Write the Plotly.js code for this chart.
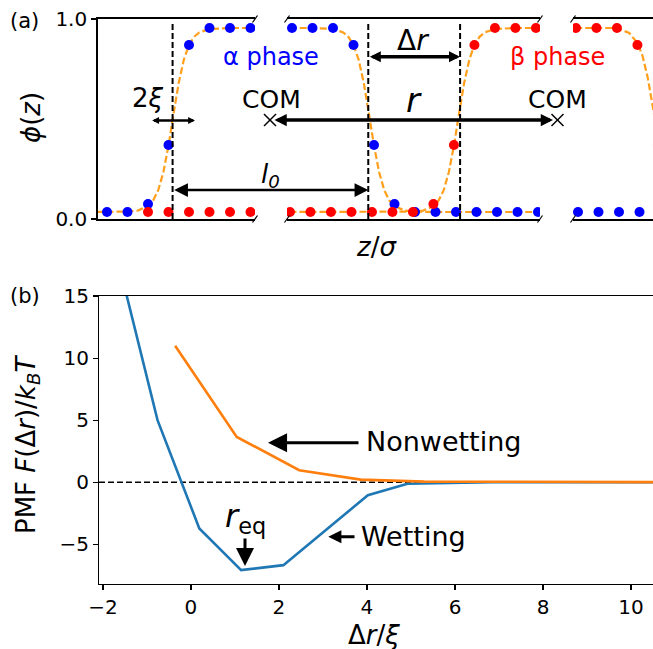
<!DOCTYPE html>
<html><head><meta charset="utf-8">
<script src="https://cdn.plot.ly/plotly-3.0.1.min.js"></script>
<style>html,body{margin:0;padding:0;background:#fff}#chart{width:653px;height:649px}</style>
</head><body><div id="chart"></div>
<script>
// ---------- panel (a): order-parameter profiles (z in lattice units) ----------
const zBlue = [0,1,2,3,4,5,6,7, 18,19,20,21,22,23,24,25,26,27,28,29,30, 40,41,42,43,44];
const phiBlue = [0.035,0.035,0.075,0.37,0.87,0.955,0.955,0.955,
  0.955,0.955,0.955,0.87,0.37,0.075,0.035,0.035,0.035,0.035,0.035,0.035,0.035,
  0.035,0.035,0.035,0.035,0.035];
const zRed = [2,3,4,5,6,7, 17.9,18.9,19.9,20.9,21.9,22.9,23.9,24.9,25.9,26.9,27.9,28.9,29.9, 39.9,40.9,41.9,42.9,43.9];
const phiRed = [0.035,0.035,0.035,0.035,0.035,0.035,
  0.035,0.035,0.035,0.035,0.035,0.035,0.035,0.075,0.37,0.87,0.955,0.955,0.955,
  0.955,0.955,0.955,0.87,0.37];
// fitted profiles (orange dashed)
const zFitA = [-1,0,1,1.5,2,2.25,2.5,2.75,3,3.25,3.5,3.75,4,4.25,4.5,5,6,7,8,
  17,18,19,20,20.5,20.75,21,21.25,21.5,21.75,22,22.25,22.5,22.75,23,23.5,24,25,26,27,28,29,30,31];
const phiFitA = [0.035,0.035,0.037,0.042,0.064,0.092,0.144,0.234,0.367,0.528,0.681,0.797,0.870,0.911,0.933,0.950,0.955,0.955,0.955,
  0.955,0.955,0.955,0.950,0.933,0.911,0.870,0.797,0.681,0.528,0.367,0.234,0.144,0.092,0.064,0.042,0.037,0.035,0.035,0.035,0.035,0.035,0.035,0.035];
const zFitB = [16.9,17.9,18.9,19.9,20.9,21.9,22.9,23.9,24.4,24.9,25.15,25.4,25.65,25.9,26.15,26.4,26.65,26.9,27.15,27.4,27.9,28.9,29.9,30.9,
  38.9,39.9,40.9,41.9,42.5,42.9,43.15,43.4,43.65,43.9,44.15,44.4,44.9,45.9];
const phiFitB = [0.035,0.035,0.035,0.035,0.035,0.035,0.035,0.037,0.042,0.064,0.092,0.144,0.234,0.367,0.528,0.681,0.797,0.870,0.911,0.933,0.950,0.955,0.955,0.955,
  0.955,0.955,0.955,0.955,0.930,0.880,0.815,0.708,0.560,0.398,0.258,0.159,0.068,0.036];
const interfaceA = [3.2];          // on segment 1
const interfaceB = [21.72, 26.2];  // on segment 2

// ---------- panel (b): PMF ----------
const drWet = [-1.71,-0.76,0.19,1.14,2.10,4.02,4.92,5.9,6.85,7.8,8.75,9.7,10.65];
const pmfWet = [18.6,5.0,-3.73,-7.08,-6.68,-1.05,-0.12,-0.03,0,0,0,0,0];
const drNon = [-0.36,1.04,2.46,3.86,5.3,6.72,8.14,9.56,10.98];
const pmfNon = [11.0,3.65,0.97,0.21,0.05,0.02,0,0,0];
const xTicksB = [-2,0,2,4,6,8,10];
const yTicksB = [-5,0,5,10,15];

const W = 653, H = 649;
const PX = v => v / W, PY = v => 1 - v / H;
const FONT = 'DejaVu Sans';
const ORANGE = '#ff9f1c';

const traces = [];
['x','x2','x3'].forEach(ax => {
  if (ax !== 'x3') traces.push({x: zFitA, y: phiFitA, xaxis: ax, yaxis: 'y', mode: 'lines',
    line: {color: ORANGE, width: 2.2, dash: '7px,3px'}, hoverinfo: 'skip'});
  if (ax !== 'x') traces.push({x: zFitB, y: phiFitB, xaxis: ax, yaxis: 'y', mode: 'lines',
    line: {color: ORANGE, width: 2.2, dash: '7px,3px'}, hoverinfo: 'skip'});
});
['x','x2','x3'].forEach(ax => {
  traces.push({x: zBlue, y: phiBlue, xaxis: ax, yaxis: 'y', mode: 'markers',
    marker: {color: 'blue', size: 10}});
});
['x','x2','x3'].forEach(ax => {
  traces.push({x: zRed, y: phiRed, xaxis: ax, yaxis: 'y', mode: 'markers',
    marker: {color: 'red', size: 10}});
});
traces.push({x: drWet, y: pmfWet, xaxis: 'x4', yaxis: 'y2', mode: 'lines',
  line: {color: '#1f77b4', width: 2.6}, name: 'Wetting'});
traces.push({x: drNon, y: pmfNon, xaxis: 'x4', yaxis: 'y2', mode: 'lines',
  line: {color: '#ff7f0e', width: 2.6}, name: 'Nonwetting'});

const segAxis = (dom, rng) => ({domain: dom, range: rng, anchor: 'y', showline: true, mirror: true,
  linecolor: 'black', linewidth: 1.8, ticks: '', showticklabels: false, showgrid: false, zeroline: false});

const shapes = [];
interfaceA.forEach(v => shapes.push({type: 'line', xref: 'x', yref: 'y', x0: v, x1: v, y0: 0, y1: 0.975,
  line: {color: 'black', width: 2, dash: '6px,3px'}}));
interfaceB.forEach(v => shapes.push({type: 'line', xref: 'x2', yref: 'y', x0: v, x1: v, y0: 0, y1: 0.975,
  line: {color: 'black', width: 2, dash: '6px,3px'}}));
// zero reference line in (b)
shapes.push({type: 'line', xref: 'paper', yref: 'y2', x0: PX(99), x1: 1, y0: 0, y1: 0, layer: 'below',
  line: {color: 'black', width: 1.5, dash: '6px,3px'}});
// axis break marks
[255, 287, 540, 573].forEach(bx => [19, 219].forEach(by => shapes.push({type: 'line', xref: 'paper', yref: 'paper',
  x0: PX(bx - 2.5), y0: PY(by + 3.5), x1: PX(bx + 2.5), y1: PY(by - 3.5), line: {color: 'black', width: 1.2}})));
// COM crosses
[[270, 120], [557.5, 120]].forEach(([cx, cy]) => {
  shapes.push({type: 'line', xref: 'paper', yref: 'paper', x0: PX(cx - 6), y0: PY(cy - 6), x1: PX(cx + 6), y1: PY(cy + 6), line: {color: 'black', width: 1.5}});
  shapes.push({type: 'line', xref: 'paper', yref: 'paper', x0: PX(cx - 6), y0: PY(cy + 6), x1: PX(cx + 6), y1: PY(cy - 6), line: {color: 'black', width: 1.5}});
});

const txt = (text, x, y, size, opts = {}) => Object.assign({text, xref: 'paper', yref: 'paper', x: PX(x), y: PY(y),
  showarrow: false, xanchor: 'center', yanchor: 'middle', font: {family: FONT, size, color: 'black'}}, opts);
const arrow = (hx, hy, tx, ty, w, s, both) => ({text: '', xref: 'paper', yref: 'paper', x: PX(hx), y: PY(hy),
  ax: tx - hx, ay: ty - hy, axref: 'pixel', ayref: 'pixel', showarrow: true, arrowhead: 2, arrowcolor: 'black',
  arrowwidth: w, arrowsize: s, arrowside: both ? 'end+start' : 'end', standoff: 0, startstandoff: 0});

const annotations = [
  txt('(a)', 25, 21, 21),
  txt('(b)', 25, 296, 21),
  txt('<i>ϕ</i>(<i>z</i>)', 31, 118, 26, {textangle: -90}),
  txt('<i>z</i>/<i>σ</i>', 376, 247, 26),
  txt('α phase', 271, 57, 24, {font: {family: FONT, size: 24, color: 'blue'}}),
  txt('β phase', 557, 57, 24, {font: {family: FONT, size: 24, color: 'red'}}),
  txt('2<i>ξ</i>', 148, 98, 26),
  txt('COM', 271, 100, 25),
  txt('COM', 557, 100, 25),
  txt('<i>r</i>', 414, 100, 34),
  txt('Δ<i>r</i>', 412.5, 40, 28),
  txt('<i>l</i><sub><i>0</i></sub>', 270, 175, 26),
  arrow(195, 120.5, 150.7, 120.5, 2.5, 0.55, true),
  arrow(553, 120, 273, 120, 3.5, 0.7, true),
  arrow(460, 56.7, 368.3, 56.7, 3.5, 0.63, true),
  arrow(368.3, 190, 172.7, 190, 2.5, 1.1, true),
  txt('PMF <i>F</i>(Δ<i>r</i>)/<i>k</i><sub><i>B</i></sub><i>T</i>', 27, 445, 26, {textangle: -90}),
  txt('Δ<i>r</i>/<i>ξ</i>', 374, 635, 26),
  txt('Nonwetting', 364, 441.7, 27, {xanchor: 'left'}),
  txt('Wetting', 359, 536.7, 27, {xanchor: 'left'}),
  txt('<i>r</i><sub>eq</sub>', 245, 518, 32),
  arrow(268, 442.7, 360, 442.7, 3, 1.27, false),
  arrow(328.3, 536.7, 356, 536.7, 3, 0.87, false),
  arrow(245, 566, 245, 537, 3, 1.2, false)
];

const layout = {
  width: W, height: H, margin: {l: 0, r: 0, t: 0, b: 0},
  paper_bgcolor: 'white', plot_bgcolor: 'rgba(0,0,0,0)', showlegend: false,
  font: {family: FONT, size: 20, color: 'black'},
  xaxis: segAxis([PX(98), PX(255)], [-0.439, 7.22]),
  xaxis2: segAxis([PX(287), PX(540)], [17.756, 30.098]),
  xaxis3: segAxis([PX(573), 1], [39.756, 43.659]),
  yaxis: {domain: [PY(219), PY(19)], range: [0, 1], anchor: 'x', showline: true, mirror: false,
    linecolor: 'black', linewidth: 1.8, ticks: 'outside', ticklen: 5, tickwidth: 1.5, tickcolor: 'black',
    tickvals: [0, 1], ticktext: ['0.0', '1.0'], showgrid: false, zeroline: false,
    tickfont: {family: FONT, size: 20, color: 'black'}},
  xaxis4: {domain: [PX(99), 1], range: [-2.09, 10.5], anchor: 'y2', showline: true, mirror: true,
    linecolor: 'black', linewidth: 1.1, ticks: 'outside', ticklen: 5, tickwidth: 1.1, tickcolor: 'black',
    tickvals: xTicksB, showgrid: false, zeroline: false, tickfont: {family: FONT, size: 20, color: 'black'}},
  yaxis2: {domain: [PY(584), PY(296)], range: [-8.2, 15], anchor: 'x4', showline: true, mirror: false,
    linecolor: 'black', linewidth: 1.1, ticks: 'outside', ticklen: 5, tickwidth: 1.1, tickcolor: 'black',
    tickvals: yTicksB, showgrid: false, zeroline: false, tickfont: {family: FONT, size: 20, color: 'black'}},
  shapes, annotations
};
Plotly.newPlot('chart', traces, layout, {displayModeBar: false, staticPlot: true});
</script></body></html>
